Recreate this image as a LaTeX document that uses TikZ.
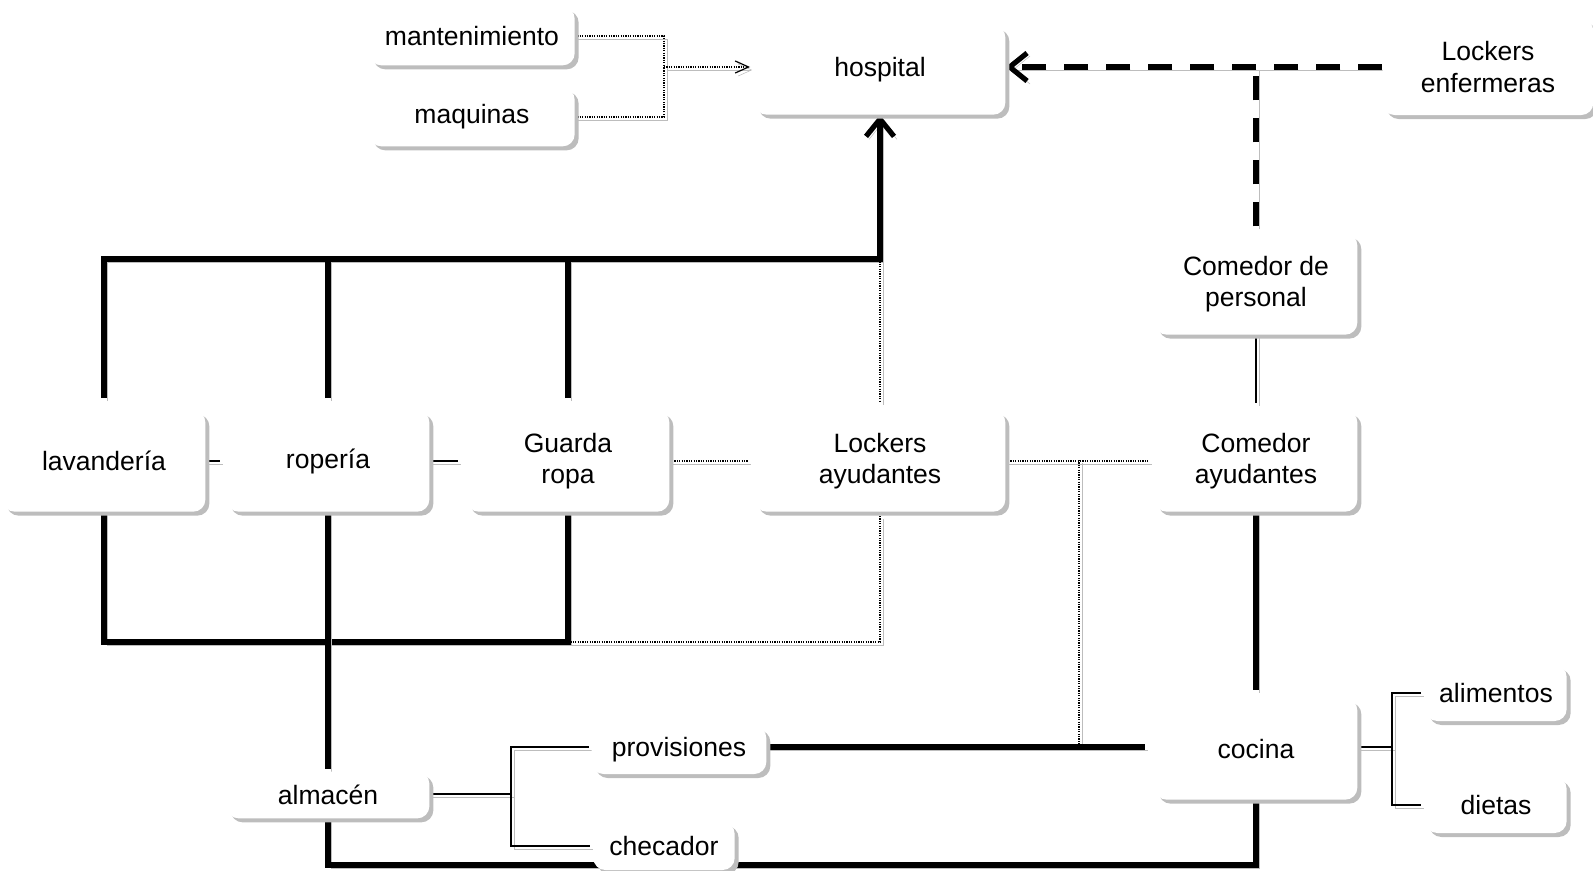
\documentclass[tikz,border=0pt]{standalone}
\usepackage{fontspec}
\setmainfont{Liberation Sans}
\usetikzlibrary{arrows.meta,shadows,calc}
\definecolor{shgray}{gray}{0.74}
\pgfdeclarelayer{bg}
\pgfsetlayers{bg,main}
\tikzset{
 box/.style={fill=white, rounded corners=9pt, align=center, inner sep=0pt,
   font=\fontsize{19.9pt}{23.6pt}\selectfont,
   drop shadow={shadow xshift=3pt, shadow yshift=-3pt, fill=shgray, opacity=1}},
 big/.style={minimum width=152pt, minimum height=76pt},
 lsh/.style={preaction={draw=shgray, transform canvas={shift={(2.25pt,-2.25pt)}}}},
 thickln/.style={line width=3.9pt, lsh},
 thinln/.style={line width=1.6pt, lsh},
 dotln/.style={line width=0.9pt, dash pattern=on 0.9pt off 0.9pt, lsh},
 dashln/.style={line width=3.9pt, dash pattern=on 18pt off 13.5pt, lsh},
 bigbarb/.style={-{Straight Barb[length=13pt,width=21pt]}},
 smallbarb/.style={-{Straight Barb[length=10pt,width=9pt]}},
}
\begin{document}
\begin{tikzpicture}[x=0.75pt,y=-0.75pt]
\useasboundingbox (0,0) rectangle (1593,871);
% nodes
\node[box, minimum width=154pt, minimum height=44pt] (mant) at (472,36) {mantenimiento};
\node[box, minimum width=154pt, minimum height=44pt] (maq) at (472,117) {maquinas};
\node[box, minimum width=188pt, minimum height=67pt] (hosp) at (880,70) {hospital};
\node[box, minimum width=158pt, minimum height=72pt] (lenf) at (1488,67) {Lockers\\enfermeras};
\node[box, big] (cdp) at (1256,284) {Comedor de\\personal};
\node[box, big] (lav) at (104,461) {lavandería};
\node[box, big] (rop) at (328,461) {ropería};
\node[box, big] (gua) at (568,461) {Guarda\\ropa};
\node[box, big, minimum width=188pt] (lay) at (880,461) {Lockers\\ayudantes};
\node[box, big] (cay) at (1256,461) {Comedor\\ayudantes};
\node[box, big] (coc) at (1256,749) {cocina};
\node[box, minimum width=106pt, minimum height=42pt] (ali) at (1496,693) {alimentos};
\node[box, minimum width=106pt, minimum height=42pt] (die) at (1496,805) {dietas};
\node[box, minimum width=152pt, minimum height=35pt] (alm) at (328,795) {almacén};
\node[box, minimum width=131pt, minimum height=36pt] (pro) at (679,750) {provisiones};
\node[box, minimum width=106pt, minimum height=36pt] (che) at (664,846) {checador};
% junction coordinates
\coordinate (jt) at (880,259);
\coordinate (jb) at (568,642);
\coordinate (jr) at (1079,460);
\coordinate (jp) at (1079,747);
\coordinate (jbot) at (328,865);
\coordinate (ba) at (511,794);
\coordinate (bc) at (1392,747);
\coordinate (jm) at (664,67);
\coordinate (ma) at (750,67);
\coordinate (jd) at (1256,67);
\coordinate (pe) at (pro.east |- jp);
\begin{pgfonlayer}{bg}
\draw[thickln,bigbarb,shorten <=9pt] (lav.north) |- (jt) -- (hosp.south);
\draw[thickln,shorten <=9pt] (rop.north) -- (rop.north |- jt);
\draw[thickln,shorten <=9pt] (gua.north) -- (gua.north |- jt);
\draw[dotln,shorten >=6pt] (jt) -- (lay.north);
\draw[thickln] (lav.south) |- (jb) -- (gua.south);
\draw[dotln,shorten >=3pt] (jb) -| (lay.south);
\draw[thickln,shorten >=2pt] (rop.south) -- (alm.north);
\draw[thinln,shorten >=4.5pt] (lav.east) -- (rop.west);
\draw[thinln,shorten >=6pt] (rop.east) -- (gua.west);
\draw[dotln,shorten >=4.5pt] (gua.east) -- (lay.west);
\draw[dotln,shorten >=4pt] (lay.east) -- (cay.west);
\draw[dotln] (jr) -- (jp);
\draw[thinln,shorten >=5pt] (cdp.south) -- (cay.north);
\draw[thickln,shorten >=6pt] (cay.south) -- (coc.north);
\draw[thickln,shorten >=7pt] (pe) -- (coc.west |- jp);
\draw[thickln] (coc.south) |- (jbot) -- (alm.south);
\draw[thinln] (alm.east |- ba) -- (ba);
\draw[thinln,shorten <=2pt,shorten >=2pt] (pro.west |- jp) -| (ba |- che.west) -- (che.west);
\draw[thinln] (coc.east |- bc) -- (bc);
\draw[thinln,shorten <=3pt,shorten >=3pt] (ali.west) -| (bc |- die.west) -- (die.west);
\draw[dotln] (mant.east) -| (jm);
\draw[dotln] (maq.east) -| (jm);
\draw[dotln,smallbarb] (jm) -- (ma);
\draw[dashln,bigbarb] (lenf.west |- jd) -- (hosp.east |- jd);
\draw[dashln,shorten <=5pt] (cdp.north -| jd) -- (jd);
\end{pgfonlayer}
\end{tikzpicture}
\end{document}
